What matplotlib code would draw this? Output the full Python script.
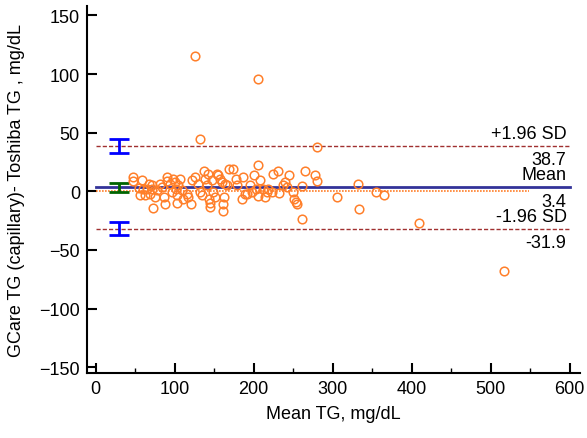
import matplotlib
matplotlib.use("Agg")
import matplotlib.pyplot as plt
from matplotlib.ticker import MultipleLocator

plt.rcParams['font.family'] = ['Liberation Sans', 'DejaVu Sans']

# Bland-Altman data: mean TG (x) and difference (y)
mean_tg = [47.0, 47.9, 58.4, 55.5, 56.6, 62.7, 60.5, 68.1, 71.1, 69.0, 75.3, 73.2, 64.8,
           77.4, 71.1, 81.6, 83.8, 86.7, 88.0, 90.1, 90.9, 96.4, 94.3, 98.5, 100.6, 101.9,
           102.7, 103.6, 104.9, 107.0, 109.0, 111.2, 115.4, 117.5, 120.5, 121.7, 126.0,
           130.2, 132.3, 134.4, 137.3, 138.6, 140.7, 142.8, 144.1, 144.9, 144.9, 147.0,
           149.2, 151.3, 153.4, 155.5, 157.6, 159.7, 161.0, 161.8, 162.7, 163.9, 166.0,
           169.4, 174.5, 177.8, 178.7, 185.0, 187.1, 189.2, 191.4, 195.6, 197.7, 201.0,
           203.2, 206.1, 206.1, 208.2, 212.4, 214.6, 216.7, 218.8, 223.0, 225.1, 231.4,
           232.7, 237.8, 239.9, 242.0, 245.4, 250.4, 251.3, 253.8, 255.5, 261.0, 261.0,
           265.2, 277.8, 280.0, 305.3, 280.0, 132.0, 126.0, 205.0, 517.5, 332.7, 334.0,
           354.6, 365.0, 409.0]
diff_tg = [12.0, 8.4, 9.2, 2.7, -3.5, -3.5, 2.1, 6.4, 5.0, -2.1, -5.0, -14.0, 2.1,
           0.7, 1.6, 6.4, 3.5, -5.0, -10.6, 12.0, 8.4, -0.7, 6.4, 10.6, 7.8, 2.1,
           -9.8, -3.5, 5.0, 10.6, 0.7, -6.4, -2.1, -5.0, -10.6, 9.2, 12.6,
           6.4, -0.7, -3.5, 17.7, 10.6, 5.0, 14.9, -6.4, -9.8, -13.5, 9.2,
           -0.7, -5.0, 14.9, 13.5, 10.6, 7.8, -17.2, -10.6, -5.0, 6.4, 5.0,
           18.6, 18.6, 10.6, 5.0, -6.9, 12.0, -2.1, -2.1, 5.0, -0.7, 14.0,
           2.1, 22.5, -4.1, 9.2, 2.1, -5.0, -0.7, 2.1, -0.7, 14.9, 16.9,
           -1.3, 5.5, 7.8, 3.5, 13.5, -0.7, -6.4, -9.2, -10.6, -23.4, 4.4,
           16.9, 14.0, 8.4, -5.0, 37.6, 44.6, 115.5, 95.7, -68.2, 5.8, -15.5,
           -1.0, -3.0, -27.0]

# Agreement statistics
mean_diff = 3.4
upper_loa = 38.7
lower_loa = -31.9
ci_x = 30
upper_ci = (33.0, 44.2)
mean_ci = (-0.2, 7.0)
lower_ci = (-37.5, -26.3)
line_span = (0, 600)
zero_span = (0, 548)

labels_above = ["+1.96 SD", "Mean", "-1.96 SD"]
labels_below = ["38.7", "3.4", "-31.9"]

fig = plt.figure(figsize=(5.87, 4.39), dpi=100)
ax = fig.add_axes([0.148, 0.148, 0.840, 0.836])

ax.set_xlim(-11, 613)
ax.set_ylim(-155, 158)

# reference lines
ax.plot(zero_span, [0, 0], color='#FF7F2A', lw=1.2, ls=(0, (1, 0.8)), zorder=2)
ax.plot(line_span, [mean_diff, mean_diff], color='#333399', lw=2.0, zorder=3)
for v in (upper_loa, lower_loa):
    ax.plot(line_span, [v, v], color='#A03030', lw=1.0, ls=(0, (3, 1.5)), zorder=2)

# confidence intervals
for ci, col in ((upper_ci, '#0000FF'), (lower_ci, '#0000FF'), (mean_ci, '#006400')):
    c = (ci[0] + ci[1]) / 2
    h = (ci[1] - ci[0]) / 2
    ax.errorbar([ci_x], [c], yerr=[[h], [h]], fmt='none', ecolor=col,
                elinewidth=2, capsize=7.5, capthick=2, zorder=4)

# points
ax.plot(mean_tg, diff_tg, ls='none', marker='o', markersize=6.2, mfc='none',
        mec='#FF7F2A', mew=1.1, zorder=5)

# text labels
for val, above, below in zip((upper_loa, mean_diff, lower_loa), labels_above, labels_below):
    ax.annotate(above, xy=(596, val), xytext=(0, 3), textcoords='offset points',
                ha='right', va='bottom', fontsize=13)
    ax.annotate(below, xy=(596, val), xytext=(0, -4), textcoords='offset points',
                ha='right', va='top', fontsize=13)

for s in ('top', 'right'):
    ax.spines[s].set_visible(False)
for s in ('left', 'bottom'):
    ax.spines[s].set_linewidth(1.5)

ax.xaxis.set_major_locator(MultipleLocator(100))
ax.xaxis.set_minor_locator(MultipleLocator(50))
ax.yaxis.set_major_locator(MultipleLocator(50))
ax.tick_params(axis='both', which='major', direction='in', length=7, width=1.5,
               labelsize=13, pad=5)
ax.tick_params(axis='x', which='minor', direction='in', length=3.5, width=1.0)

ax.set_xlabel("Mean TG, mg/dL", fontsize=13, labelpad=6)
ax.set_ylabel("GCare TG (capillary)- Toshiba TG , mg/dL", fontsize=13, labelpad=10)

fig.savefig("out.png", dpi=100)
